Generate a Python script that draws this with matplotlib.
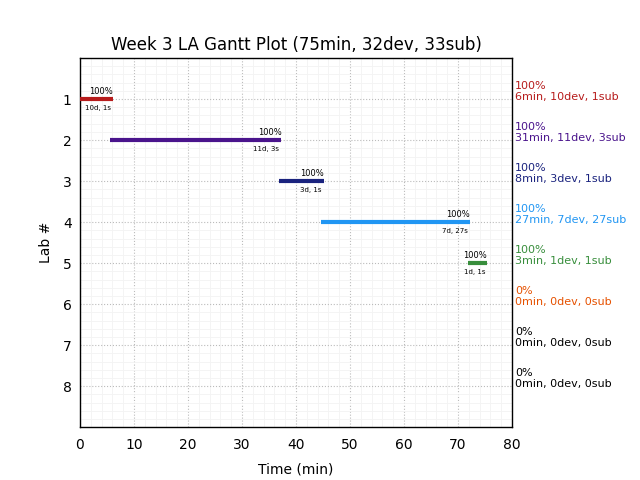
import matplotlib
matplotlib.use('Agg')
import matplotlib.pyplot as plt
from matplotlib.ticker import MultipleLocator

labs = [1, 2, 3, 4, 5, 6, 7, 8]
starts = [0.0, 5.6, 36.8, 44.7, 71.8]
ends = [6.1, 37.3, 45.2, 72.2, 75.4]
bar_pct = ['100%', '100%', '100%', '100%', '100%']
bar_info = ['10d, 1s', '11d, 3s', '3d, 1s', '7d, 27s', '1d, 1s']
side_pct = ['100%', '100%', '100%', '100%', '100%', '0%', '0%', '0%']
side_info = ['6min, 10dev, 1sub', '31min, 11dev, 3sub', '8min, 3dev, 1sub',
             '27min, 7dev, 27sub', '3min, 1dev, 1sub', '0min, 0dev, 0sub',
             '0min, 0dev, 0sub', '0min, 0dev, 0sub']
colors = ['#b71c1c', '#4a148c', '#1a237e', '#2196f3', '#388e3c', '#e65100',
          'black', 'black']

fig = plt.figure(figsize=(6.4, 4.8), dpi=100)
ax = fig.add_axes([0.125, 0.110, 0.675, 0.769])

for i in range(len(starts)):
    ax.hlines(labs[i], starts[i], ends[i], colors=colors[i], lw=3, zorder=3)
    ax.text(ends[i], labs[i] - 0.08, bar_pct[i], ha='right', va='bottom', fontsize=6)
    ax.text(ends[i] - 0.4, labs[i] + 0.15, bar_info[i], ha='right', va='top', fontsize=5)

for i, lab in enumerate(labs):
    ax.text(1.007, lab + 0.07, side_pct[i] + '\n' + side_info[i], color=colors[i],
            transform=ax.get_yaxis_transform(), ha='left', va='bottom', fontsize=8,
            linespacing=1.1)

ax.set_xlim(0, 80)
ax.set_ylim(9, 0)
ax.set_yticks(labs)
ax.xaxis.set_major_locator(MultipleLocator(10))
ax.xaxis.set_minor_locator(MultipleLocator(2))
ax.yaxis.set_minor_locator(MultipleLocator(0.2))
ax.tick_params(which='both', length=0, labelsize=10)
ax.tick_params(axis='x', pad=8)
ax.tick_params(axis='y', pad=6)
ax.grid(which='major', color='#bbbbbb', linestyle=':', lw=0.8)
ax.grid(which='minor', color='#f3f3f3', linestyle='-', lw=0.6)
for s in ax.spines.values():
    s.set_linewidth(1.0)

ax.set_title('Week 3 LA Gantt Plot (75min, 32dev, 33sub)', fontsize=12)
ax.set_xlabel('Time (min)', fontsize=10, labelpad=7)
ax.set_ylabel('Lab #', fontsize=10, labelpad=7)

fig.savefig('out.png', dpi=100)
